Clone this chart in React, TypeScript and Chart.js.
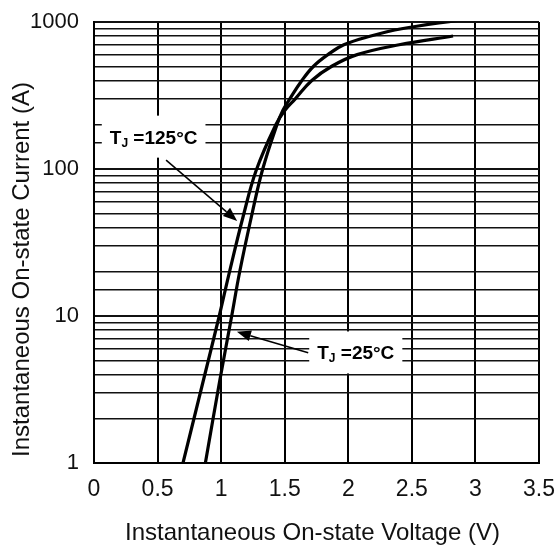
import React, { useEffect, useRef } from 'react';
import { Chart, registerables } from 'chart.js';

Chart.register(...registerables);

// Tj = 125 °C curve (voltage V, current A)
const voltage125 = [0.70, 0.861, 0.985, 1.063, 1.173, 1.276, 1.43, 1.50, 1.583, 1.713, 1.87, 2.07, 2.40, 2.824];
const current125 = [1, 3.67, 10, 19.5, 47.5, 98, 200, 250, 300, 400, 500, 600, 700, 803];

// Tj = 25 °C curve
const voltage25 = [0.876, 0.99, 1.083, 1.146, 1.244, 1.327, 1.439, 1.485, 1.54, 1.635, 1.727, 1.84, 1.965, 2.17, 2.42, 2.882];
const current25 = [1, 3.67, 10, 20, 50, 100, 200, 250, 300, 400, 500, 600, 700, 800, 900, 1032];

const xTickValues = [0, 0.5, 1, 1.5, 2, 2.5, 3, 3.5];
const xTickLabels = ['0', '0.5', '1', '1.5', '2', '2.5', '3', '3.5'];
const yTickValues = [1, 10, 100, 1000];
const yTickLabels = ['1', '10', '100', '1000'];

const xTitle = 'Instantaneous On-state Voltage (V)';
const yTitle = 'Instantaneous On-state Current (A)';

// annotations in data coordinates: label centre, arrow tail, arrow tip
const labelTemps = ['125°C', '25°C'];
const labelCenters = [{ x: 0.469, y: 166 }, { x: 2.059, y: 5.65 }];
const arrowTails = [{ x: 0.567, y: 115 }, { x: 1.685, y: 5.62 }];
const arrowTips = [{ x: 1.126, y: 44.3 }, { x: 1.124, y: 7.82 }];

const FONT = '"Liberation Sans", Arial, Helvetica, sans-serif';

const toPoints = (xs: number[], ys: number[]) => xs.map((x, i) => ({ x, y: ys[i] }));

const overlayPlugin = {
  id: 'overlay',
  afterDatasetsDraw(chart: any) {
    const { ctx, scales } = chart;
    const xs = scales.x;
    const ys = scales.y;
    ctx.save();
    for (let i = 0; i < labelTemps.length; i++) {
      const cx = xs.getPixelForValue(labelCenters[i].x);
      const cy = ys.getPixelForValue(labelCenters[i].y);
      ctx.font = `bold 19px ${FONT}`;
      const wT = ctx.measureText('T').width;
      const rest = ' =' + labelTemps[i];
      const wRest = ctx.measureText(rest).width;
      ctx.font = `bold 12px ${FONT}`;
      const wJ = ctx.measureText('J').width;
      const total = wT + wJ + wRest;
      const boxW = total + 16;
      const boxH = 42;
      ctx.fillStyle = '#fff';
      ctx.fillRect(cx - boxW / 2, cy - boxH / 2, boxW, boxH);
      ctx.fillStyle = '#000';
      ctx.textBaseline = 'alphabetic';
      ctx.textAlign = 'left';
      let tx = cx - total / 2;
      const base = cy + 7;
      ctx.font = `bold 19px ${FONT}`;
      ctx.fillText('T', tx, base);
      tx += wT;
      ctx.font = `bold 12px ${FONT}`;
      ctx.fillText('J', tx, base + 3);
      tx += wJ;
      ctx.font = `bold 19px ${FONT}`;
      ctx.fillText(rest, tx, base);

      const x0 = xs.getPixelForValue(arrowTails[i].x);
      const y0 = ys.getPixelForValue(arrowTails[i].y);
      const x1 = xs.getPixelForValue(arrowTips[i].x);
      const y1 = ys.getPixelForValue(arrowTips[i].y);
      const ang = Math.atan2(y1 - y0, x1 - x0);
      const headLen = 14;
      const headW = 5.5;
      const bx = x1 - headLen * Math.cos(ang);
      const by = y1 - headLen * Math.sin(ang);
      ctx.strokeStyle = '#000';
      ctx.lineWidth = 1.5;
      ctx.beginPath();
      ctx.moveTo(x0, y0);
      ctx.lineTo(bx, by);
      ctx.stroke();
      ctx.beginPath();
      ctx.moveTo(x1, y1);
      ctx.lineTo(bx + headW * Math.sin(ang), by - headW * Math.cos(ang));
      ctx.lineTo(bx - headW * Math.sin(ang), by + headW * Math.cos(ang));
      ctx.closePath();
      ctx.fill();
    }
    ctx.restore();
  },
  afterDraw(chart: any) {
    const { ctx, chartArea } = chart;
    ctx.save();
    ctx.fillStyle = '#111';
    ctx.font = `24px ${FONT}`;
    ctx.textAlign = 'center';
    ctx.textBaseline = 'middle';
    ctx.fillText(xTitle, (chartArea.left + chartArea.right) / 2 - 4, 533);
    ctx.translate(22, (chartArea.top + chartArea.bottom) / 2 + 27);
    ctx.rotate(-Math.PI / 2);
    ctx.fillText(yTitle, 0, 0);
    ctx.restore();
  },
};

export default function App() {
  const ref = useRef<HTMLCanvasElement | null>(null);

  useEffect(() => {
    if (!ref.current) return;
    const chart = new Chart(ref.current, {
      type: 'line',
      data: {
        datasets: [
          {
            label: 'TJ = 125°C',
            data: toPoints(voltage125, current125),
            borderColor: '#000',
            borderWidth: 3.2,
            pointRadius: 0,
            tension: 0.4,
            fill: false,
          },
          {
            label: 'TJ = 25°C',
            data: toPoints(voltage25, current25),
            borderColor: '#000',
            borderWidth: 3.2,
            pointRadius: 0,
            tension: 0.4,
            fill: false,
          },
        ],
      },
      options: {
        responsive: false,
        animation: false,
        devicePixelRatio: 1,
        layout: { padding: { top: 22, right: 21, left: 0, bottom: 0 } },
        plugins: {
          legend: { display: false },
          tooltip: { enabled: false },
        },
        scales: {
          x: {
            type: 'linear',
            min: 0,
            max: 3.5,
            afterFit: (s: any) => {
              s.height = 84;
              s.paddingLeft = 0;
              s.paddingRight = 0;
            },
            afterBuildTicks: (s: any) => {
              s.ticks = xTickValues.map((v) => ({ value: v }));
            },
            ticks: {
              autoSkip: false,
              maxRotation: 0,
              padding: 13,
              color: '#111',
              font: { family: FONT, size: 23 },
              callback: (v: any) => {
                const i = xTickValues.indexOf(Number(v));
                return i >= 0 ? xTickLabels[i] : '';
              },
            },
            grid: { color: '#000', lineWidth: 2, drawTicks: false },
            border: { display: true, color: '#000', width: 2 },
          },
          y: {
            type: 'logarithmic',
            min: 1,
            max: 1000,
            afterFit: (s: any) => {
              s.width = 94;
              s.paddingTop = 0;
              s.paddingBottom = 0;
            },
            ticks: {
              autoSkip: false,
              padding: 15,
              color: '#111',
              font: { family: FONT, size: 22 },
              callback: (v: any) => {
                const i = yTickValues.indexOf(Number(v));
                return i >= 0 ? yTickLabels[i] : '';
              },
            },
            grid: {
              color: '#111',
              lineWidth: (c: any) => {
                const v = c.tick ? c.tick.value : 0;
                return yTickValues.indexOf(v) >= 0 ? 2 : 1.5;
              },
              drawTicks: false,
            },
            border: { display: true, color: '#000', width: 2 },
          },
        },
      },
      plugins: [overlayPlugin],
    } as any);
    return () => chart.destroy();
  }, []);

  return (
    <div style={{ position: 'fixed', left: 0, top: 0, width: 560, height: 547, background: '#fff' }}>
      <canvas ref={ref} width={560} height={547} />
    </div>
  );
}
